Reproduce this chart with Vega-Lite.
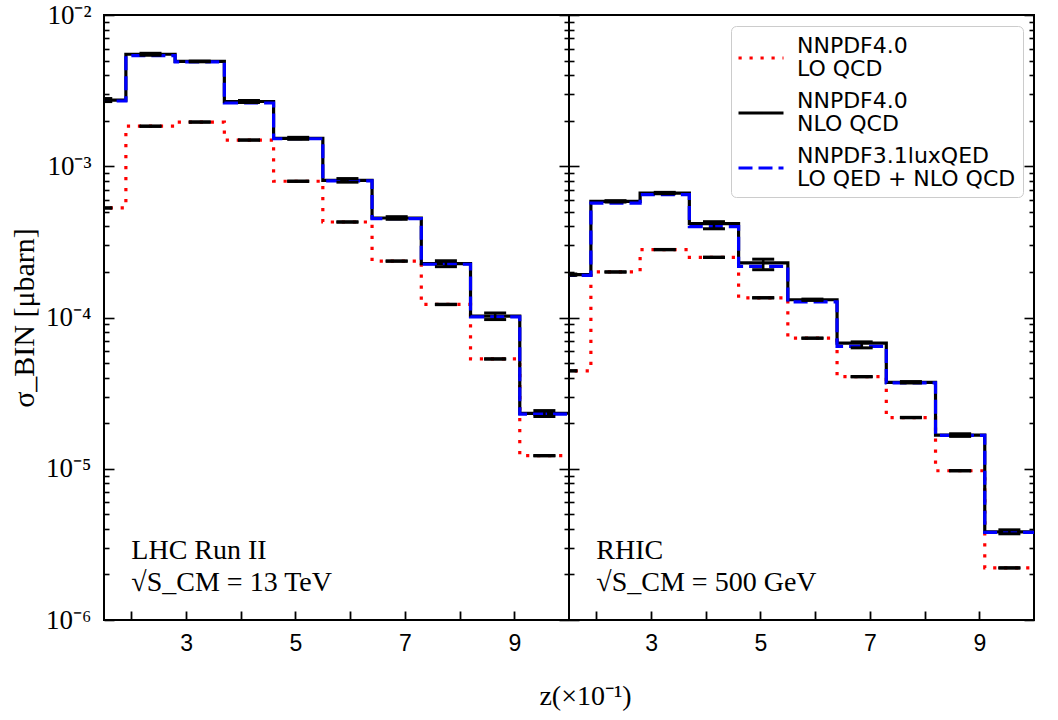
{
  "$schema": "https://vega.github.io/schema/vega-lite/v6.json",
  "padding": {"left": 8, "top": 0, "right": 0, "bottom": 0},
  "config": {
    "view": {"stroke": "black", "strokeWidth": 2},
    "axis": {"grid": false, "domain": false, "labelOverlap": false, "labelFlush": false, "labelBound": false, "tickColor": "black", "labelColor": "black", "titleColor": "black"}
  },
  "datasets": {
    "steps": [
      {"panel": "LHC", "series": "NNPDF4.0 LO QCD", "z": 1.0, "sigma": 5.3e-4},
      {"panel": "LHC", "series": "NNPDF4.0 LO QCD", "z": 1.9, "sigma": 1.84e-3},
      {"panel": "LHC", "series": "NNPDF4.0 LO QCD", "z": 2.8, "sigma": 1.96e-3},
      {"panel": "LHC", "series": "NNPDF4.0 LO QCD", "z": 3.7, "sigma": 1.49e-3},
      {"panel": "LHC", "series": "NNPDF4.0 LO QCD", "z": 4.6, "sigma": 7.96e-4},
      {"panel": "LHC", "series": "NNPDF4.0 LO QCD", "z": 5.5, "sigma": 4.28e-4},
      {"panel": "LHC", "series": "NNPDF4.0 LO QCD", "z": 6.4, "sigma": 2.36e-4},
      {"panel": "LHC", "series": "NNPDF4.0 LO QCD", "z": 7.3, "sigma": 1.22e-4},
      {"panel": "LHC", "series": "NNPDF4.0 LO QCD", "z": 8.2, "sigma": 5.32e-5},
      {"panel": "LHC", "series": "NNPDF4.0 LO QCD", "z": 9.1, "sigma": 1.22e-5},
      {"panel": "LHC", "series": "NNPDF4.0 LO QCD", "z": 10.0, "sigma": 1.22e-5},
      {"panel": "LHC", "series": "NNPDF4.0 NLO QCD", "z": 1.0, "sigma": 2.74e-3},
      {"panel": "LHC", "series": "NNPDF4.0 NLO QCD", "z": 1.9, "sigma": 5.5e-3},
      {"panel": "LHC", "series": "NNPDF4.0 NLO QCD", "z": 2.8, "sigma": 4.93e-3},
      {"panel": "LHC", "series": "NNPDF4.0 NLO QCD", "z": 3.7, "sigma": 2.68e-3},
      {"panel": "LHC", "series": "NNPDF4.0 NLO QCD", "z": 4.6, "sigma": 1.53e-3},
      {"panel": "LHC", "series": "NNPDF4.0 NLO QCD", "z": 5.5, "sigma": 8.07e-4},
      {"panel": "LHC", "series": "NNPDF4.0 NLO QCD", "z": 6.4, "sigma": 4.55e-4},
      {"panel": "LHC", "series": "NNPDF4.0 NLO QCD", "z": 7.3, "sigma": 2.27e-4},
      {"panel": "LHC", "series": "NNPDF4.0 NLO QCD", "z": 8.2, "sigma": 1.02e-4},
      {"panel": "LHC", "series": "NNPDF4.0 NLO QCD", "z": 9.1, "sigma": 2.32e-5},
      {"panel": "LHC", "series": "NNPDF4.0 NLO QCD", "z": 10.0, "sigma": 2.32e-5},
      {"panel": "LHC", "series": "NNPDF3.1luxQED LO QED + NLO QCD", "z": 1.0, "sigma": 2.70e-3},
      {"panel": "LHC", "series": "NNPDF3.1luxQED LO QED + NLO QCD", "z": 1.9, "sigma": 5.38e-3},
      {"panel": "LHC", "series": "NNPDF3.1luxQED LO QED + NLO QCD", "z": 2.8, "sigma": 4.90e-3},
      {"panel": "LHC", "series": "NNPDF3.1luxQED LO QED + NLO QCD", "z": 3.7, "sigma": 2.62e-3},
      {"panel": "LHC", "series": "NNPDF3.1luxQED LO QED + NLO QCD", "z": 4.6, "sigma": 1.52e-3},
      {"panel": "LHC", "series": "NNPDF3.1luxQED LO QED + NLO QCD", "z": 5.5, "sigma": 8.0e-4},
      {"panel": "LHC", "series": "NNPDF3.1luxQED LO QED + NLO QCD", "z": 6.4, "sigma": 4.5e-4},
      {"panel": "LHC", "series": "NNPDF3.1luxQED LO QED + NLO QCD", "z": 7.3, "sigma": 2.25e-4},
      {"panel": "LHC", "series": "NNPDF3.1luxQED LO QED + NLO QCD", "z": 8.2, "sigma": 1.01e-4},
      {"panel": "LHC", "series": "NNPDF3.1luxQED LO QED + NLO QCD", "z": 9.1, "sigma": 2.30e-5},
      {"panel": "LHC", "series": "NNPDF3.1luxQED LO QED + NLO QCD", "z": 10.0, "sigma": 2.30e-5},
      {"panel": "RHIC", "series": "NNPDF4.0 LO QCD", "z": 1.0, "sigma": 4.44e-5},
      {"panel": "RHIC", "series": "NNPDF4.0 LO QCD", "z": 1.9, "sigma": 2.0e-4},
      {"panel": "RHIC", "series": "NNPDF4.0 LO QCD", "z": 2.8, "sigma": 2.81e-4},
      {"panel": "RHIC", "series": "NNPDF4.0 LO QCD", "z": 3.7, "sigma": 2.5e-4},
      {"panel": "RHIC", "series": "NNPDF4.0 LO QCD", "z": 4.6, "sigma": 1.35e-4},
      {"panel": "RHIC", "series": "NNPDF4.0 LO QCD", "z": 5.5, "sigma": 7.3e-5},
      {"panel": "RHIC", "series": "NNPDF4.0 LO QCD", "z": 6.4, "sigma": 4.06e-5},
      {"panel": "RHIC", "series": "NNPDF4.0 LO QCD", "z": 7.3, "sigma": 2.18e-5},
      {"panel": "RHIC", "series": "NNPDF4.0 LO QCD", "z": 8.2, "sigma": 9.7e-6},
      {"panel": "RHIC", "series": "NNPDF4.0 LO QCD", "z": 9.1, "sigma": 2.21e-6},
      {"panel": "RHIC", "series": "NNPDF4.0 LO QCD", "z": 10.0, "sigma": 2.21e-6},
      {"panel": "RHIC", "series": "NNPDF4.0 NLO QCD", "z": 1.0, "sigma": 1.92e-4},
      {"panel": "RHIC", "series": "NNPDF4.0 NLO QCD", "z": 1.9, "sigma": 5.86e-4},
      {"panel": "RHIC", "series": "NNPDF4.0 NLO QCD", "z": 2.8, "sigma": 6.65e-4},
      {"panel": "RHIC", "series": "NNPDF4.0 NLO QCD", "z": 3.7, "sigma": 4.17e-4},
      {"panel": "RHIC", "series": "NNPDF4.0 NLO QCD", "z": 4.6, "sigma": 2.30e-4},
      {"panel": "RHIC", "series": "NNPDF4.0 NLO QCD", "z": 5.5, "sigma": 1.31e-4},
      {"panel": "RHIC", "series": "NNPDF4.0 NLO QCD", "z": 6.4, "sigma": 6.76e-5},
      {"panel": "RHIC", "series": "NNPDF4.0 NLO QCD", "z": 7.3, "sigma": 3.73e-5},
      {"panel": "RHIC", "series": "NNPDF4.0 NLO QCD", "z": 8.2, "sigma": 1.67e-5},
      {"panel": "RHIC", "series": "NNPDF4.0 NLO QCD", "z": 9.1, "sigma": 3.83e-6},
      {"panel": "RHIC", "series": "NNPDF4.0 NLO QCD", "z": 10.0, "sigma": 3.83e-6},
      {"panel": "RHIC", "series": "NNPDF3.1luxQED LO QED + NLO QCD", "z": 1.0, "sigma": 1.90e-4},
      {"panel": "RHIC", "series": "NNPDF3.1luxQED LO QED + NLO QCD", "z": 1.9, "sigma": 5.70e-4},
      {"panel": "RHIC", "series": "NNPDF3.1luxQED LO QED + NLO QCD", "z": 2.8, "sigma": 6.50e-4},
      {"panel": "RHIC", "series": "NNPDF3.1luxQED LO QED + NLO QCD", "z": 3.7, "sigma": 3.99e-4},
      {"panel": "RHIC", "series": "NNPDF3.1luxQED LO QED + NLO QCD", "z": 4.6, "sigma": 2.18e-4},
      {"panel": "RHIC", "series": "NNPDF3.1luxQED LO QED + NLO QCD", "z": 5.5, "sigma": 1.27e-4},
      {"panel": "RHIC", "series": "NNPDF3.1luxQED LO QED + NLO QCD", "z": 6.4, "sigma": 6.45e-5},
      {"panel": "RHIC", "series": "NNPDF3.1luxQED LO QED + NLO QCD", "z": 7.3, "sigma": 3.70e-5},
      {"panel": "RHIC", "series": "NNPDF3.1luxQED LO QED + NLO QCD", "z": 8.2, "sigma": 1.66e-5},
      {"panel": "RHIC", "series": "NNPDF3.1luxQED LO QED + NLO QCD", "z": 9.1, "sigma": 3.80e-6},
      {"panel": "RHIC", "series": "NNPDF3.1luxQED LO QED + NLO QCD", "z": 10.0, "sigma": 3.80e-6}
    ],
    "errs": [
      {"panel": "LHC", "order": "LO", "zc": 1.45, "lo": 5.284e-4, "hi": 5.316e-4},
      {"panel": "LHC", "order": "LO", "zc": 2.35, "lo": 1.834e-3, "hi": 1.846e-3},
      {"panel": "LHC", "order": "LO", "zc": 3.25, "lo": 1.954e-3, "hi": 1.966e-3},
      {"panel": "LHC", "order": "LO", "zc": 4.15, "lo": 1.486e-3, "hi": 1.494e-3},
      {"panel": "LHC", "order": "LO", "zc": 5.05, "lo": 7.936e-4, "hi": 7.984e-4},
      {"panel": "LHC", "order": "LO", "zc": 5.95, "lo": 4.267e-4, "hi": 4.293e-4},
      {"panel": "LHC", "order": "LO", "zc": 6.85, "lo": 2.353e-4, "hi": 2.367e-4},
      {"panel": "LHC", "order": "LO", "zc": 7.75, "lo": 1.216e-4, "hi": 1.224e-4},
      {"panel": "LHC", "order": "LO", "zc": 8.65, "lo": 5.304e-5, "hi": 5.336e-5},
      {"panel": "LHC", "order": "LO", "zc": 9.55, "lo": 1.216e-5, "hi": 1.224e-5},
      {"panel": "LHC", "order": "NLO", "zc": 1.45, "lo": 2.677e-3, "hi": 2.803e-3},
      {"panel": "LHC", "order": "NLO", "zc": 2.35, "lo": 5.418e-3, "hi": 5.583e-3},
      {"panel": "LHC", "order": "NLO", "zc": 3.25, "lo": 4.905e-3, "hi": 4.955e-3},
      {"panel": "LHC", "order": "NLO", "zc": 4.15, "lo": 2.640e-3, "hi": 2.720e-3},
      {"panel": "LHC", "order": "NLO", "zc": 5.05, "lo": 1.507e-3, "hi": 1.553e-3},
      {"panel": "LHC", "order": "NLO", "zc": 5.95, "lo": 7.85e-4, "hi": 8.29e-4},
      {"panel": "LHC", "order": "NLO", "zc": 6.85, "lo": 4.46e-4, "hi": 4.64e-4},
      {"panel": "LHC", "order": "NLO", "zc": 7.75, "lo": 2.168e-4, "hi": 2.372e-4},
      {"panel": "LHC", "order": "NLO", "zc": 8.65, "lo": 9.69e-5, "hi": 1.071e-4},
      {"panel": "LHC", "order": "NLO", "zc": 9.55, "lo": 2.216e-5, "hi": 2.424e-5},
      {"panel": "RHIC", "order": "LO", "zc": 1.45, "lo": 4.427e-5, "hi": 4.453e-5},
      {"panel": "RHIC", "order": "LO", "zc": 2.35, "lo": 1.994e-4, "hi": 2.006e-4},
      {"panel": "RHIC", "order": "LO", "zc": 3.25, "lo": 2.802e-4, "hi": 2.818e-4},
      {"panel": "RHIC", "order": "LO", "zc": 4.15, "lo": 2.493e-4, "hi": 2.508e-4},
      {"panel": "RHIC", "order": "LO", "zc": 5.05, "lo": 1.346e-4, "hi": 1.354e-4},
      {"panel": "RHIC", "order": "LO", "zc": 5.95, "lo": 7.28e-5, "hi": 7.32e-5},
      {"panel": "RHIC", "order": "LO", "zc": 6.85, "lo": 4.048e-5, "hi": 4.072e-5},
      {"panel": "RHIC", "order": "LO", "zc": 7.75, "lo": 2.173e-5, "hi": 2.187e-5},
      {"panel": "RHIC", "order": "LO", "zc": 8.65, "lo": 9.67e-6, "hi": 9.73e-6},
      {"panel": "RHIC", "order": "LO", "zc": 9.55, "lo": 2.203e-6, "hi": 2.217e-6},
      {"panel": "RHIC", "order": "NLO", "zc": 1.45, "lo": 1.901e-4, "hi": 1.939e-4},
      {"panel": "RHIC", "order": "NLO", "zc": 2.35, "lo": 5.80e-4, "hi": 5.92e-4},
      {"panel": "RHIC", "order": "NLO", "zc": 3.25, "lo": 6.58e-4, "hi": 6.72e-4},
      {"panel": "RHIC", "order": "NLO", "zc": 4.15, "lo": 3.86e-4, "hi": 4.30e-4},
      {"panel": "RHIC", "order": "NLO", "zc": 5.05, "lo": 2.07e-4, "hi": 2.43e-4},
      {"panel": "RHIC", "order": "NLO", "zc": 5.95, "lo": 1.297e-4, "hi": 1.323e-4},
      {"panel": "RHIC", "order": "NLO", "zc": 6.85, "lo": 6.30e-5, "hi": 6.90e-5},
      {"panel": "RHIC", "order": "NLO", "zc": 7.75, "lo": 3.69e-5, "hi": 3.77e-5},
      {"panel": "RHIC", "order": "NLO", "zc": 8.65, "lo": 1.637e-5, "hi": 1.703e-5},
      {"panel": "RHIC", "order": "NLO", "zc": 9.55, "lo": 3.715e-6, "hi": 3.945e-6}
    ],
    "notes": [
      {"panel": "LHC", "lines": ["LHC Run II", "√S_CM = 13 TeV"]},
      {"panel": "RHIC", "lines": ["RHIC", "√S_CM = 500 GeV"]}
    ]
  },
  "spacing": 0,
  "bounds": "flush",
  "resolve": {"scale": {"color": "independent", "strokeDash": "independent"}},
  "hconcat": [
    {
      "width": 465,
      "height": 605,
      "resolve": {"axis": {"y": "independent"}},
      "layer": [
        {
          "data": {"name": "steps"},
          "transform": [{"filter": "datum.panel == 'LHC'"}],
          "mark": {"type": "line", "interpolate": "step-after", "clip": true, "strokeWidth": 3.2},
          "encoding": {
            "x": {"field": "z", "type": "quantitative", "scale": {"domain": [1.5, 10], "nice": false, "zero": false},
              "axis": {"values": [2, 3, 4, 5, 6, 7, 8, 9], "tickSize": -9, "tickWidth": 1.8, "labelPadding": 21, "labelExpr": "datum.value % 2 == 1 ? datum.label : ''", "labelFont": "Liberation Sans", "labelFontSize": 23,
                "title": "z(×10⁻¹)", "titleFont": "Liberation Serif", "titleFontSize": 28, "titleFontWeight": "normal", "titleX": 481, "titleY": 84, "titleAlign": "center", "titleBaseline": "alphabetic"}},
            "y": {"field": "sigma", "type": "quantitative", "scale": {"type": "log", "domain": [1e-6, 1e-2], "nice": false},
              "axis": {"orient": "left",
                "values": [1e-6, 2e-6, 3e-6, 4e-6, 5e-6, 6e-6, 7e-6, 8e-6, 9e-6, 1e-5, 2e-5, 3e-5, 4e-5, 5e-5, 6e-5, 7e-5, 8e-5, 9e-5, 1e-4, 2e-4, 3e-4, 4e-4, 5e-4, 6e-4, 7e-4, 8e-4, 9e-4, 1e-3, 2e-3, 3e-3, 4e-3, 5e-3, 6e-3, 7e-3, 8e-3, 9e-3, 1e-2],
                "tickSize": {"condition": {"test": "abs(log(datum.value)/LN10 - round(log(datum.value)/LN10)) < 0.001", "value": -10}, "value": -5},
                "tickWidth": 1.6,
                "labelExpr": "abs(log(datum.value)/LN10 - round(log(datum.value)/LN10)) < 0.001 ? '10⁻' + ['⁰','¹','²','³','⁴','⁵','⁶'][-round(log(datum.value)/LN10)] : ''",
                "labelPadding": 23, "labelFont": "Liberation Serif", "labelFontSize": 27,
                "title": "σ_BIN [μbarn]", "titleFont": "Liberation Serif", "titleFontSize": 30, "titleFontWeight": "normal", "titlePadding": 6}},
            "color": {"field": "series", "type": "nominal", "scale": {"domain": ["NNPDF4.0 LO QCD", "NNPDF4.0 NLO QCD", "NNPDF3.1luxQED LO QED + NLO QCD"], "range": ["#ff0000", "#000000", "#0000ff"]}, "legend": null},
            "strokeDash": {"field": "series", "type": "nominal", "scale": {"domain": ["NNPDF4.0 LO QCD", "NNPDF4.0 NLO QCD", "NNPDF3.1luxQED LO QED + NLO QCD"], "range": [[3.2, 7.8], [1, 0], [14, 6]]}, "legend": null}
          }
        },
        {
          "data": {"name": "errs"},
          "transform": [{"filter": "datum.panel == 'LHC'"}],
          "mark": {"type": "rule", "clip": true, "color": "black", "strokeWidth": 2.5},
          "encoding": {
            "x": {"field": "zc", "type": "quantitative"},
            "y": {"field": "lo", "type": "quantitative",
              "axis": {"orient": "right", "labels": false, "title": null,
                "values": [1e-6, 2e-6, 3e-6, 4e-6, 5e-6, 6e-6, 7e-6, 8e-6, 9e-6, 1e-5, 2e-5, 3e-5, 4e-5, 5e-5, 6e-5, 7e-5, 8e-5, 9e-5, 1e-4, 2e-4, 3e-4, 4e-4, 5e-4, 6e-4, 7e-4, 8e-4, 9e-4, 1e-3, 2e-3, 3e-3, 4e-3, 5e-3, 6e-3, 7e-3, 8e-3, 9e-3, 1e-2],
                "tickSize": {"condition": {"test": "abs(log(datum.value)/LN10 - round(log(datum.value)/LN10)) < 0.001", "value": -10}, "value": -5},
                "tickWidth": 1.6}},
            "y2": {"field": "hi"}
          }
        },
        {
          "data": {"name": "errs"},
          "transform": [{"filter": "datum.panel == 'LHC'"}],
          "mark": {"type": "tick", "orient": "horizontal", "clip": true, "color": "black", "size": 22, "thickness": 3, "opacity": 1},
          "encoding": {
            "x": {"field": "zc", "type": "quantitative"},
            "y": {"field": "lo", "type": "quantitative", "axis": null}
          }
        },
        {
          "data": {"name": "errs"},
          "transform": [{"filter": "datum.panel == 'LHC'"}],
          "mark": {"type": "tick", "orient": "horizontal", "clip": true, "color": "black", "size": 22, "thickness": 3, "opacity": 1},
          "encoding": {
            "x": {"field": "zc", "type": "quantitative"},
            "y": {"field": "hi", "type": "quantitative", "axis": null}
          }
        },
        {
          "data": {"name": "notes"},
          "transform": [{"filter": "datum.panel == 'LHC'"}],
          "mark": {"type": "text", "align": "left", "baseline": "alphabetic", "font": "Liberation Serif", "fontSize": 28, "lineHeight": 32, "color": "black"},
          "encoding": {
            "x": {"datum": 2.0, "type": "quantitative"},
            "y": {"datum": 2.52e-6, "type": "quantitative", "axis": null},
            "text": {"field": "lines"}
          }
        }
      ]
    },
    {
      "width": 465,
      "height": 605,
      "resolve": {"axis": {"y": "independent"}},
      "layer": [
        {
          "data": {"name": "steps"},
          "transform": [{"filter": "datum.panel == 'RHIC'"}],
          "mark": {"type": "line", "interpolate": "step-after", "clip": true, "strokeWidth": 3.2},
          "encoding": {
            "x": {"field": "z", "type": "quantitative", "scale": {"domain": [1.5, 10], "nice": false, "zero": false},
              "axis": {"values": [2, 3, 4, 5, 6, 7, 8, 9], "tickSize": -9, "tickWidth": 1.8, "labelPadding": 21, "labelExpr": "datum.value % 2 == 1 ? datum.label : ''", "labelFont": "Liberation Sans", "labelFontSize": 23, "title": null}},
            "y": {"field": "sigma", "type": "quantitative", "scale": {"type": "log", "domain": [1e-6, 1e-2], "nice": false},
              "axis": {"orient": "left", "labels": false, "title": null,
                "values": [1e-6, 2e-6, 3e-6, 4e-6, 5e-6, 6e-6, 7e-6, 8e-6, 9e-6, 1e-5, 2e-5, 3e-5, 4e-5, 5e-5, 6e-5, 7e-5, 8e-5, 9e-5, 1e-4, 2e-4, 3e-4, 4e-4, 5e-4, 6e-4, 7e-4, 8e-4, 9e-4, 1e-3, 2e-3, 3e-3, 4e-3, 5e-3, 6e-3, 7e-3, 8e-3, 9e-3, 1e-2],
                "tickSize": {"condition": {"test": "abs(log(datum.value)/LN10 - round(log(datum.value)/LN10)) < 0.001", "value": -10}, "value": -5},
                "tickWidth": 1.6}},
            "color": {"field": "series", "type": "nominal", "scale": {"domain": ["NNPDF4.0 LO QCD", "NNPDF4.0 NLO QCD", "NNPDF3.1luxQED LO QED + NLO QCD"], "range": ["#ff0000", "#000000", "#0000ff"]},
              "legend": {"orient": "top-right", "offset": 11, "title": null, "symbolType": "M-2,0H2", "symbolSize": 506.25, "symbolStrokeWidth": 3.2, "symbolOffset": 10, "labelFont": "DejaVu Sans", "labelFontSize": 22, "labelColor": "black", "labelLimit": 400, "labelOffset": 23, "rowPadding": 8, "padding": 7, "fillColor": "white", "strokeColor": "#cccccc", "cornerRadius": 5,
                "labelExpr": "[split(datum.label, ' ')[0], slice(datum.label, indexof(datum.label, ' ') + 1)]",
                "encode": {"labels": {"update": {"lineHeight": {"value": 23}}}, "symbols": {"update": {"y": {"value": 25}}}}}},
            "strokeDash": {"field": "series", "type": "nominal", "scale": {"domain": ["NNPDF4.0 LO QCD", "NNPDF4.0 NLO QCD", "NNPDF3.1luxQED LO QED + NLO QCD"], "range": [[3.2, 7.8], [1, 0], [14, 6]]},
              "legend": {"orient": "top-right", "offset": 11, "title": null, "symbolType": "M-2,0H2", "symbolSize": 506.25, "symbolStrokeWidth": 3.2, "symbolOffset": 10, "labelFont": "DejaVu Sans", "labelFontSize": 22, "labelColor": "black", "labelLimit": 400, "labelOffset": 23, "rowPadding": 8, "padding": 7, "fillColor": "white", "strokeColor": "#cccccc", "cornerRadius": 5,
                "labelExpr": "[split(datum.label, ' ')[0], slice(datum.label, indexof(datum.label, ' ') + 1)]",
                "encode": {"labels": {"update": {"lineHeight": {"value": 23}}}, "symbols": {"update": {"y": {"value": 25}}}}}}
          }
        },
        {
          "data": {"name": "errs"},
          "transform": [{"filter": "datum.panel == 'RHIC'"}],
          "mark": {"type": "rule", "clip": true, "color": "black", "strokeWidth": 2.5},
          "encoding": {
            "x": {"field": "zc", "type": "quantitative"},
            "y": {"field": "lo", "type": "quantitative",
              "axis": {"orient": "right", "labels": false, "title": null,
                "values": [1e-6, 2e-6, 3e-6, 4e-6, 5e-6, 6e-6, 7e-6, 8e-6, 9e-6, 1e-5, 2e-5, 3e-5, 4e-5, 5e-5, 6e-5, 7e-5, 8e-5, 9e-5, 1e-4, 2e-4, 3e-4, 4e-4, 5e-4, 6e-4, 7e-4, 8e-4, 9e-4, 1e-3, 2e-3, 3e-3, 4e-3, 5e-3, 6e-3, 7e-3, 8e-3, 9e-3, 1e-2],
                "tickSize": {"condition": {"test": "abs(log(datum.value)/LN10 - round(log(datum.value)/LN10)) < 0.001", "value": -10}, "value": -5},
                "tickWidth": 1.6}},
            "y2": {"field": "hi"}
          }
        },
        {
          "data": {"name": "errs"},
          "transform": [{"filter": "datum.panel == 'RHIC'"}],
          "mark": {"type": "tick", "orient": "horizontal", "clip": true, "color": "black", "size": 22, "thickness": 3, "opacity": 1},
          "encoding": {
            "x": {"field": "zc", "type": "quantitative"},
            "y": {"field": "lo", "type": "quantitative", "axis": null}
          }
        },
        {
          "data": {"name": "errs"},
          "transform": [{"filter": "datum.panel == 'RHIC'"}],
          "mark": {"type": "tick", "orient": "horizontal", "clip": true, "color": "black", "size": 22, "thickness": 3, "opacity": 1},
          "encoding": {
            "x": {"field": "zc", "type": "quantitative"},
            "y": {"field": "hi", "type": "quantitative", "axis": null}
          }
        },
        {
          "data": {"name": "notes"},
          "transform": [{"filter": "datum.panel == 'RHIC'"}],
          "mark": {"type": "text", "align": "left", "baseline": "alphabetic", "font": "Liberation Serif", "fontSize": 28, "lineHeight": 32, "color": "black"},
          "encoding": {
            "x": {"datum": 2.0, "type": "quantitative"},
            "y": {"datum": 2.52e-6, "type": "quantitative", "axis": null},
            "text": {"field": "lines"}
          }
        }
      ]
    }
  ]
}
